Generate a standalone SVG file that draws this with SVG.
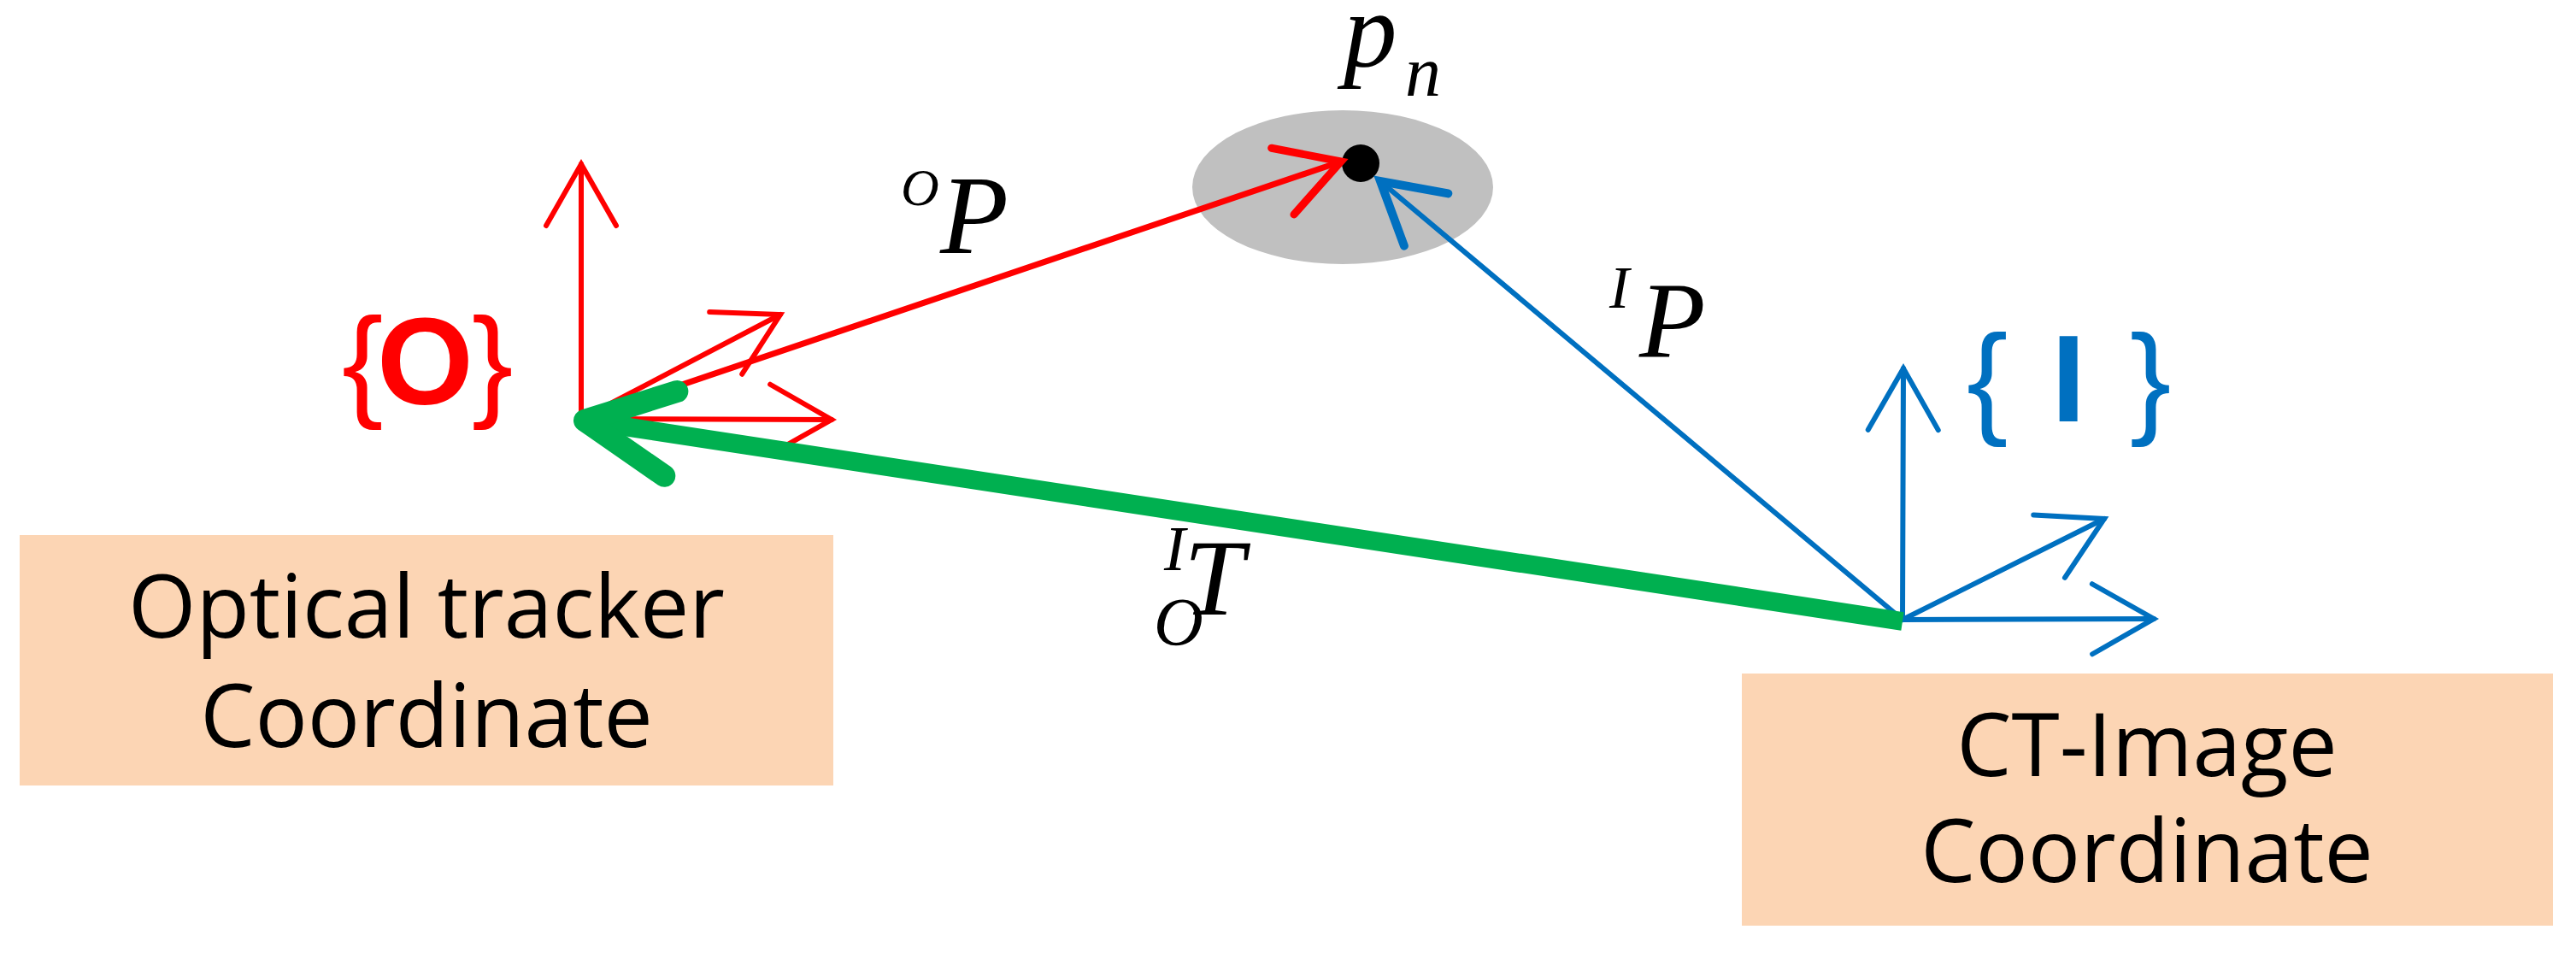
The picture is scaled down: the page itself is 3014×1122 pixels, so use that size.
<svg xmlns="http://www.w3.org/2000/svg" width="3014" height="1122" viewBox="0 0 3014 1122">
  <style>
    .box { fill: #FCD5B4; }
    .boxtext { font-family: "Open Sans", "Liberation Sans", sans-serif; font-size: 102px; fill: #000; text-anchor: middle; }
    .math { font-family: "Liberation Serif", "DejaVu Serif", serif; font-style: italic; fill: #000; }
    .red { stroke: #FF0000; fill: none; stroke-width: 6; stroke-linecap: round; }
    .redthick { stroke: #FF0000; fill: none; stroke-width: 7; stroke-linecap: round; }
    .blue { stroke: #0070C0; fill: none; stroke-width: 6; stroke-linecap: round; }
    .green { stroke: #00B050; fill: none; stroke-width: 22; stroke-linecap: butt; }
    .framelbl { font-family: "Liberation Sans", "Arial", sans-serif; font-size: 145px; }
  </style>
  <defs>
    <marker id="arrRed" markerUnits="userSpaceOnUse" markerWidth="200" markerHeight="200" refX="0" refY="0" orient="auto" overflow="visible">
      <path d="M -72 -41 L 0 0 L -72 41" fill="none" stroke="#FF0000" stroke-width="6" stroke-linecap="round" stroke-linejoin="miter"/>
    </marker>
    <marker id="arrRedThick" markerUnits="userSpaceOnUse" markerWidth="200" markerHeight="200" refX="0" refY="0" orient="auto" overflow="visible">
      <path d="M -72 -41 L 0 0 L -72 41" fill="none" stroke="#FF0000" stroke-width="9" stroke-linecap="round" stroke-linejoin="miter"/>
    </marker>
    <marker id="arrBlue" markerUnits="userSpaceOnUse" markerWidth="200" markerHeight="200" refX="0" refY="0" orient="auto" overflow="visible">
      <path d="M -72 -41 L 0 0 L -72 41" fill="none" stroke="#0070C0" stroke-width="6" stroke-linecap="round" stroke-linejoin="miter"/>
    </marker>
    <marker id="arrBlueThick" markerUnits="userSpaceOnUse" markerWidth="200" markerHeight="200" refX="0" refY="0" orient="auto" overflow="visible">
      <path d="M -70 -40 L 0 0 L -70 40" fill="none" stroke="#0070C0" stroke-width="10" stroke-linecap="round" stroke-linejoin="miter"/>
    </marker>
    <marker id="arrGreen" markerUnits="userSpaceOnUse" markerWidth="300" markerHeight="300" refX="0" refY="0" orient="auto" overflow="visible">
      <path d="M -102 -50 L 0 0 L -102 50" fill="none" stroke="#00B050" stroke-width="26" stroke-linecap="round" stroke-linejoin="round"/>
    </marker>
  </defs>

  <rect width="3014" height="1122" fill="#FFFFFF"/>

  <g id="node-pn">
    <ellipse cx="1571" cy="219" rx="176" ry="90" fill="#C0C0C0"/>
    <circle cx="1592" cy="191" r="22" fill="#000000"/>
    <text class="math" x="1572" y="77" font-size="125">p<tspan x="1644" y="112" font-size="84">n</tspan></text>
  </g>

  <g id="node-box-optical">
    <rect class="box" x="23" y="626" width="952" height="293"/>
    <text class="boxtext" x="499" y="746">Optical tracker</text>
    <text class="boxtext" x="499" y="874">Coordinate</text>
  </g>

  <g id="node-box-ct">
    <rect class="box" x="2038" y="788" width="949" height="295"/>
    <text class="boxtext" x="2512" y="908">CT-Image</text>
    <text class="boxtext" x="2512" y="1032">Coordinate</text>
  </g>

  <g id="node-frame-O">
    <line class="red" x1="680" y1="490" x2="680" y2="192" marker-end="url(#arrRed)"/>
    <line class="red" x1="680" y1="490" x2="913" y2="368" marker-end="url(#arrRed)"/>
    <line class="red" x1="680" y1="490" x2="973" y2="491" marker-end="url(#arrRed)"/>
    <text class="framelbl" fill="#FF0000" y="473"><tspan x="400">{</tspan><tspan x="441" font-weight="bold">O</tspan><tspan x="552">}</tspan></text>
  </g>

  <g id="node-frame-I">
    <line class="blue" x1="2226" y1="725" x2="2227" y2="431" marker-end="url(#arrBlue)"/>
    <line class="blue" x1="2226" y1="725" x2="2462" y2="607" marker-end="url(#arrBlue)"/>
    <line class="blue" x1="2226" y1="725" x2="2520" y2="724" marker-end="url(#arrBlue)"/>
    <text class="framelbl" fill="#0070C0" y="493"><tspan x="2301">{</tspan><tspan x="2400" font-weight="bold">I</tspan><tspan x="2492">}</tspan></text>
  </g>

  <g id="connectors">
    <line class="redthick" x1="680" y1="490" x2="1569" y2="189" marker-end="url(#arrRedThick)"/>
    <line class="blue" x1="2226" y1="725" x2="1615" y2="212" marker-end="url(#arrBlueThick)"/>
    <line class="green" x1="2226" y1="727" x2="684" y2="492" marker-end="url(#arrGreen)"/>
    <g id="label-OP">
      <text class="math" x="1054" y="240" font-size="62">O</text>
      <text class="math" x="1100" y="296" font-size="131">P</text>
    </g>
    <g id="label-IP">
      <text class="math" x="1883" y="360" font-size="70">I</text>
      <text class="math" x="1918" y="418" font-size="127">P</text>
    </g>
    <g id="label-IT">
      <text class="math" x="1362" y="667" font-size="75">I</text>
      <text class="math" x="1385" y="719" font-size="127">T</text>
      <text class="math" x="1350" y="755" font-size="80">O</text>
    </g>
  </g>
</svg>
